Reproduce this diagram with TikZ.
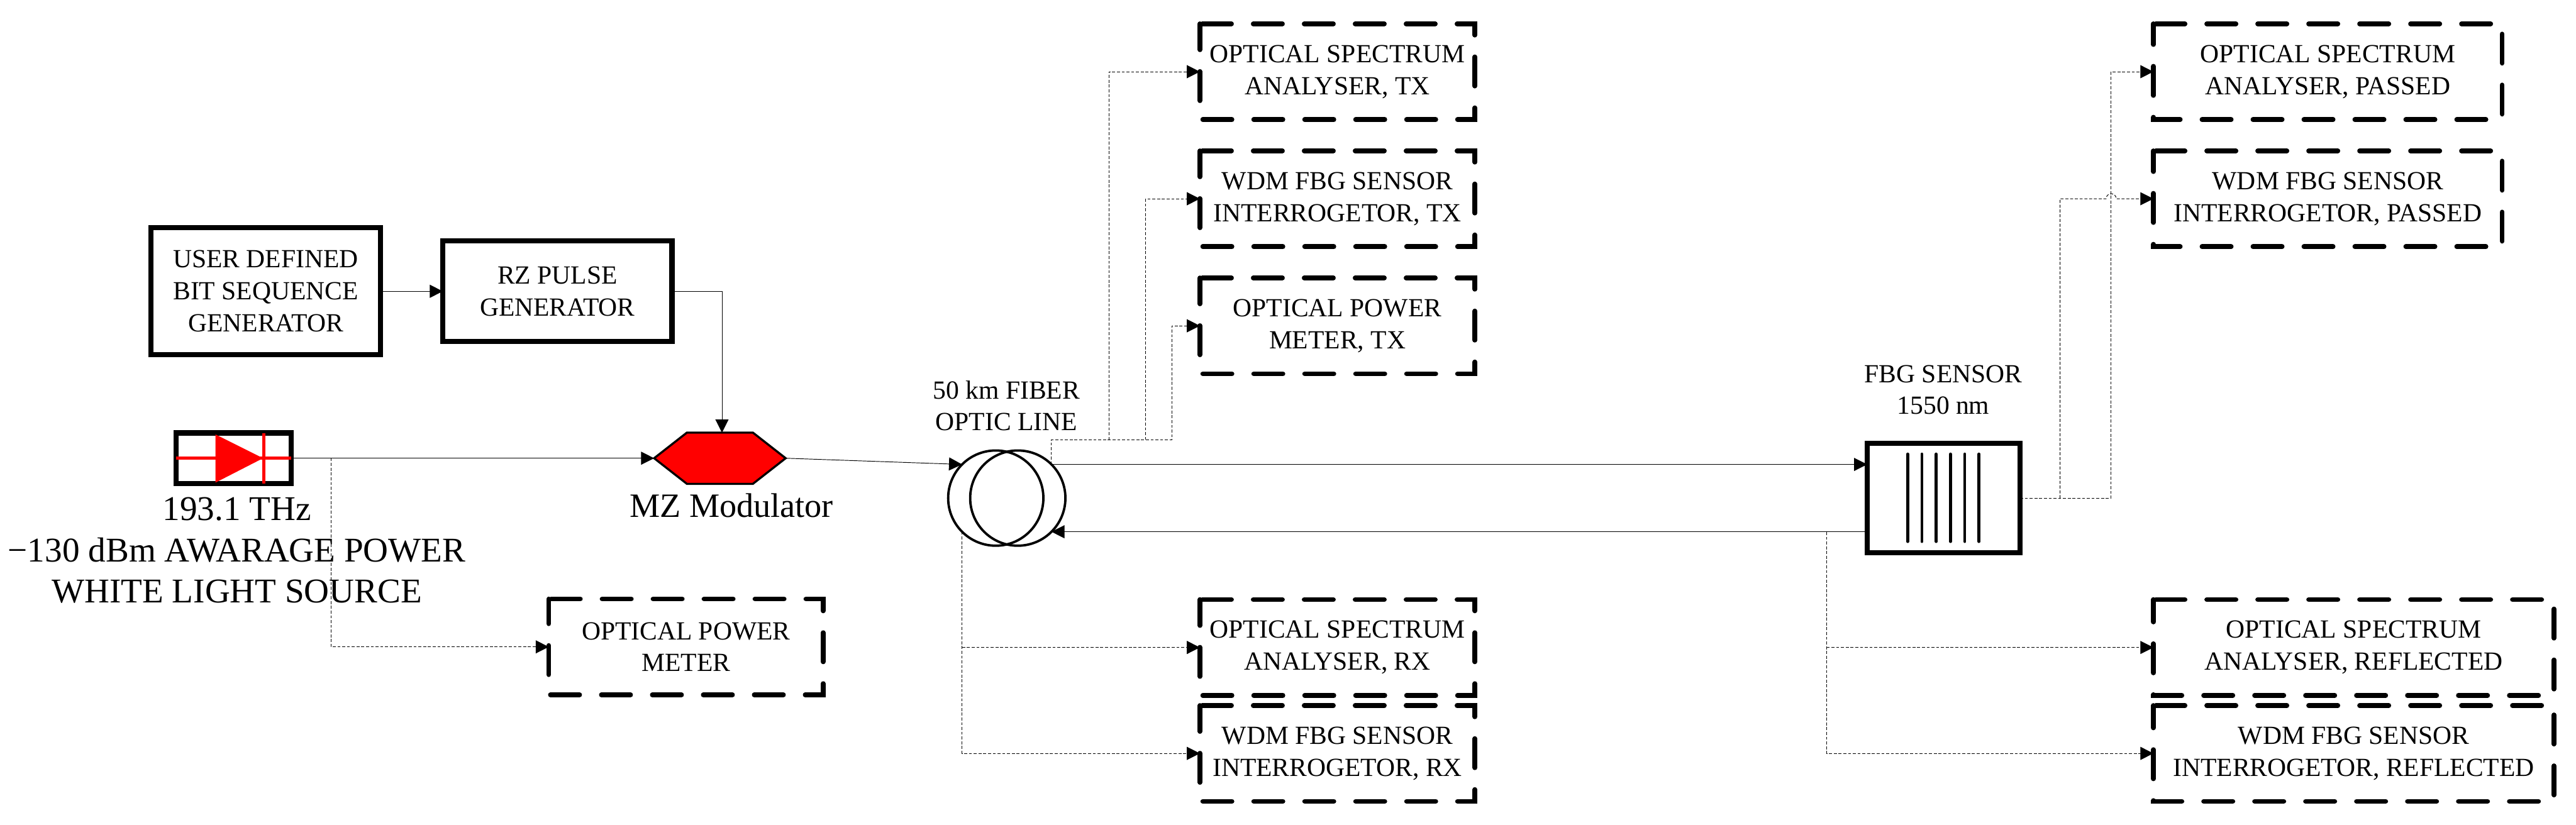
\documentclass[tikz,border=0pt]{standalone}
\usepackage{fontspec}
\setmainfont{Liberation Serif}
\usetikzlibrary{arrows.meta, calc}

\tikzset{
    >={Triangle[length=0.22cm, width=0.22cm]},
    box/.style={draw, line width=0.085cm, align=center, inner sep=0pt, outer sep=0pt,
        font=\fontsize{12.5}{15.3}\selectfont},
    dbox/.style={align=center, inner sep=0pt, outer sep=0pt, minimum height=1.61cm,
        font=\fontsize{12.5}{15.3}\selectfont},
    dline/.style={line width=0.08cm, line cap=round, dash pattern=on 0.49cm off 0.366cm, dash phase=0.816cm},
    lbl/.style={align=center, inner sep=0pt, font=\fontsize{12.5}{15.1}\selectfont},
    link/.style={line width=0.01cm},
    probe/.style={line width=0.01cm, dash pattern=on 0.05cm off 0.03cm},
    coil/.style={draw, circle, line width=0.04cm, minimum size=1.6cm, inner sep=0pt, outer sep=0pt}
}

\begin{document}
\begin{tikzpicture}
\useasboundingbox (0,0) rectangle (43.28,13.86);

% Pulse generators
\node[box, minimum width=3.85cm, minimum height=2.13cm] (user) at (4.465,8.965) {USER DEFINED\\BIT SEQUENCE\\GENERATOR};
\node[box, minimum width=3.85cm, minimum height=1.69cm] (rz) at (9.365,8.965) {RZ PULSE\\GENERATOR};

% Light source
\node[box, minimum width=1.93cm, minimum height=0.85cm] (src) at (3.925,6.16) {};
\draw[red, line width=0.05cm] (src.west) -- (src.east);
\fill[red] (3.62,6.56) -- (4.42,6.16) -- (3.62,5.75) -- cycle;
\draw[red, line width=0.05cm] (4.43,6.58) -- (4.43,5.73);
\node[align=center, inner sep=0pt, font=\fontsize{16.6}{19.7}\selectfont] (srclbl) at (3.98,4.61) {193.1 THz\\−130 dBm AWARAGE POWER\\WHITE LIGHT SOURCE};

% Modulator
\node[minimum width=2.21cm, minimum height=0.86cm, inner sep=0pt, outer sep=0pt] (mz) at (12.095,6.16) {};
\draw[fill=red, line width=0.035cm] (mz.west) -- (11.54,6.59) -- (12.65,6.59) -- (mz.east) -- (12.65,5.73) -- (11.54,5.73) -- cycle;
\node[inner sep=0pt, font=\fontsize{16.3}{18}\selectfont] (mzlbl) at (12.29,5.37) {MZ Modulator};

% Fiber coil
\node[coil] (lcirc) at (16.73,5.49) {};
\node[coil] (rcirc) at (17.10,5.49) {};
\node[lbl] (coillbl) at (16.91,7.04) {50 km FIBER\\OPTIC LINE};

% FBG
\node[box, minimum width=2.57cm, minimum height=1.84cm] (fbg) at (32.655,5.49) {};
\foreach \x in {32.05,32.29,32.53,32.77,33.01,33.25} {
    \draw[line width=0.05cm, line cap=round] (\x,6.23) -- (\x,4.76);
}
\node[lbl] (fbglbl) at (32.65,7.31) {FBG SENSOR\\1550 nm};

% Instruments
\node[dbox, minimum width=4.61cm] (opm) at (11.525,2.99) {OPTICAL POWER\\METER};
\node[dbox, minimum width=4.62cm] (osatx) at (22.47,12.655) {OPTICAL SPECTRUM\\ANALYSER, TX};
\node[dbox, minimum width=4.62cm] (wdmtx) at (22.47,10.52) {WDM FBG SENSOR\\INTERROGETOR, TX};
\node[dbox, minimum width=4.62cm] (opmtx) at (22.47,8.385) {OPTICAL POWER\\METER, TX};
\node[dbox, minimum width=4.62cm] (osarx) at (22.47,2.98) {OPTICAL SPECTRUM\\ANALYSER, RX};
\node[dbox, minimum width=4.62cm] (wdmrx) at (22.47,1.20) {WDM FBG SENSOR\\INTERROGETOR, RX};
\node[dbox, minimum width=5.86cm] (osapass) at (39.11,12.655) {OPTICAL SPECTRUM\\ANALYSER, PASSED};
\node[dbox, minimum width=5.86cm] (wdmpass) at (39.11,10.52) {WDM FBG SENSOR\\INTERROGETOR, PASSED};
\node[dbox, minimum width=6.73cm] (osarefl) at (39.545,2.98) {OPTICAL SPECTRUM\\ANALYSER, REFLECTED};
\node[dbox, minimum width=6.73cm] (wdmrefl) at (39.545,1.20) {WDM FBG SENSOR\\INTERROGETOR, REFLECTED};
\foreach \n in {opm,osatx,wdmtx,opmtx,osarx,wdmrx,osapass,wdmpass,osarefl,wdmrefl} {
    \draw[dline] (\n.north west) -- (\n.north east) -- (\n.south east) -- (\n.south west) -- cycle;
}

% Main signal path
\draw[link, ->] (user.east) -- (rz.west);
\draw[link, ->] (rz.east) -| ([xshift=0.035cm]mz.north);
\draw[link, ->] (src.east) -- (mz.west);
\draw[link, ->] (mz.east) -- (lcirc.135);
\draw[link, ->] (rcirc.45) -- (rcirc.45 -| fbg.west);
\draw[link, ->] (rcirc.-45 -| fbg.west) -- (rcirc.-45);

% Branch points
\coordinate (srctap) at (5.56,6.16);
\coordinate (txa) at (18.63,6.47);
\coordinate (txb) at (19.25,6.47);
\coordinate (txc) at (19.69,6.47);
\coordinate (passa) at (34.61,5.49);
\coordinate (passb) at (35.47,5.49);
\coordinate (hop) at (35.385,10.52);
\coordinate (refl) at (30.69,4.92);

% Probe lines
\draw[probe, ->] (srctap) |- (opm.west);
\draw[probe, ->] (rcirc.45) |- (txc) |- (opmtx.west);
\draw[probe, ->] (txa) |- (osatx.west);
\draw[probe, ->] (txb) |- (wdmtx.west);
\draw[probe, ->] (lcirc.-135) |- (wdmrx.west);
\draw[probe, ->] (lcirc.-135 |- osarx.west) -- (osarx.west);
\draw[probe, ->] (fbg.east) -- (passb) |- (osapass.west);
\draw[probe, ->] (passa) |- (hop) arc[start angle=180, end angle=0, radius=0.085] -- (wdmpass.west);
\draw[probe, ->] (refl) |- (wdmrefl.west);
\draw[probe, ->] (refl |- osarefl.west) -- (osarefl.west);
\end{tikzpicture}
\end{document}
